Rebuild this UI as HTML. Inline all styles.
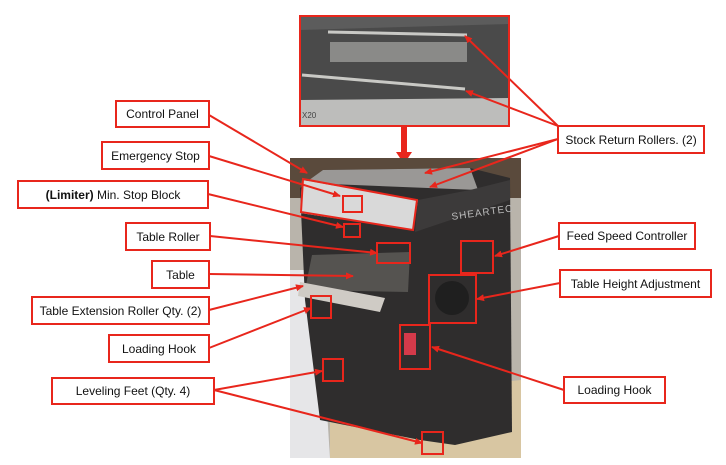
<!DOCTYPE html>
<html><head><meta charset="utf-8"><style>
html,body{margin:0;padding:0;background:#fff;width:726px;height:465px;overflow:hidden}
svg{display:block}
text{font-family:"Liberation Sans",sans-serif;font-size:12px;fill:#111}
</style></head><body>
<svg width="726" height="465" viewBox="0 0 726 465" xmlns="http://www.w3.org/2000/svg">
<defs>
<marker id="a" markerWidth="8" markerHeight="8" refX="7" refY="4" orient="auto" markerUnits="userSpaceOnUse"><path d="M0,0.5 L8,4 L0,7.5 z" fill="#e8261c"/></marker>
</defs>
<rect x="300" y="16" width="209" height="110" fill="#4a4a4a"/>
<polygon points="300,16 509,16 509,24 300,30" fill="#5c5c5c"/>
<rect x="330" y="42" width="137" height="20" fill="#8a8a88"/>
<line x1="328" y1="32" x2="467" y2="35" stroke="#c9c9c5" stroke-width="3"/>
<line x1="302" y1="75" x2="465" y2="89" stroke="#c9c9c5" stroke-width="3"/>
<polygon points="300,100 509,98 509,126 300,126" fill="#bdbdbb"/>
<text x="302" y="118" style="font-size:8px;fill:#444">X20</text>
<rect x="300" y="16" width="209" height="110" fill="none" stroke="#e8261c" stroke-width="2"/>
<rect x="401" y="126" width="6" height="28" fill="#e8261c"/>
<polygon points="396,152 412,152 404,164" fill="#e8261c"/>
<rect x="290" y="158" width="231" height="300" fill="#b9b4ab"/>
<rect x="290" y="158" width="231" height="40" fill="#5a4a3c"/>
<polygon points="290,270 318,270 330,458 290,458" fill="#e6e6e8"/>
<polygon points="330,400 521,380 521,458 330,458" fill="#d8c6a2"/>
<polygon points="300,188 323,170 470,168 510,178 512,432 455,445 420,440 320,420 305,300" fill="#2f2d2d"/>
<polygon points="323,170 470,168 478,190 305,183" fill="#9a9896"/>
<polygon points="302,180 418,200 413,230 300,213" fill="#d9d9d9"/>
<polygon points="418,200 470,190 510,180 510,200 415,232" fill="#3c3a3a"/>
<text x="452" y="220" transform="rotate(-8 452 220)" style="font-size:10px;fill:#bbb;letter-spacing:1px">SHEARTEC</text>
<polygon points="312,255 410,252 408,292 305,290" fill="#555350"/>
<polygon points="300,282 385,298 380,312 298,296" fill="#cfcbc5"/>
<rect x="404" y="333" width="12" height="22" fill="#d43a4a"/>
<circle cx="452" cy="298" r="17" fill="#1f1f1f"/>
<g fill="none" stroke="#e8261c" stroke-width="2">
<polygon points="303,179 417,200 413,230 301,212"/>
<rect x="343" y="196" width="19" height="16"/>
<rect x="344" y="224" width="16" height="13"/>
<rect x="377" y="243" width="33" height="20"/>
<rect x="461" y="241" width="32" height="32"/>
<rect x="429" y="275" width="47" height="48"/>
<rect x="400" y="325" width="30" height="44"/>
<rect x="311" y="296" width="20" height="22"/>
<rect x="323" y="359" width="20" height="22"/>
<rect x="422" y="432" width="21" height="22"/>
</g>
<g stroke="#e8261c" stroke-width="2" fill="none" marker-end="url(#a)">
<line x1="209" y1="115" x2="307" y2="173"/>
<line x1="209" y1="156" x2="340" y2="196"/>
<line x1="208" y1="194" x2="343" y2="227"/>
<line x1="210" y1="236" x2="377" y2="253"/>
<line x1="209" y1="274" x2="353" y2="276"/>
<line x1="209" y1="310" x2="303" y2="286"/>
<line x1="209" y1="348" x2="311" y2="308"/>
<line x1="214" y1="390" x2="322" y2="371"/>
<line x1="214" y1="390" x2="422" y2="443"/>
<line x1="558" y1="126" x2="465" y2="36"/>
<line x1="558" y1="126" x2="466" y2="91"/>
<line x1="558" y1="139" x2="425" y2="173"/>
<line x1="558" y1="139" x2="430" y2="187"/>
<line x1="559" y1="236" x2="495" y2="256"/>
<line x1="560" y1="283" x2="477" y2="299"/>
<line x1="564" y1="390" x2="432" y2="347"/>
</g>
<g fill="#fff" stroke="#e8261c" stroke-width="2">
<rect x="116" y="101" width="93" height="26"/>
<rect x="102" y="142" width="107" height="27"/>
<rect x="18" y="181" width="190" height="27"/>
<rect x="126" y="223" width="84" height="27"/>
<rect x="152" y="261" width="57" height="27"/>
<rect x="32" y="297" width="177" height="27"/>
<rect x="109" y="335" width="100" height="27"/>
<rect x="52" y="378" width="162" height="26"/>
<rect x="558" y="126" width="146" height="27"/>
<rect x="559" y="223" width="136" height="26"/>
<rect x="560" y="270" width="151" height="27"/>
<rect x="564" y="377" width="101" height="26"/>
</g>
<g text-anchor="middle">
<text x="162.5" y="118">Control Panel</text>
<text x="155.5" y="160">Emergency Stop</text>
<text x="113" y="199"><tspan font-weight="bold">(Limiter)</tspan> Min. Stop Block</text>
<text x="168" y="241">Table Roller</text>
<text x="180.5" y="279">Table</text>
<text x="120.5" y="315">Table Extension Roller Qty. (2)</text>
<text x="159" y="353">Loading Hook</text>
<text x="133" y="395">Leveling Feet (Qty. 4)</text>
<text x="631" y="144">Stock Return Rollers. (2)</text>
<text x="627" y="240">Feed Speed Controller</text>
<text x="635.5" y="288">Table Height Adjustment</text>
<text x="614.5" y="394">Loading Hook</text>
</g>
</svg>
</body></html>
